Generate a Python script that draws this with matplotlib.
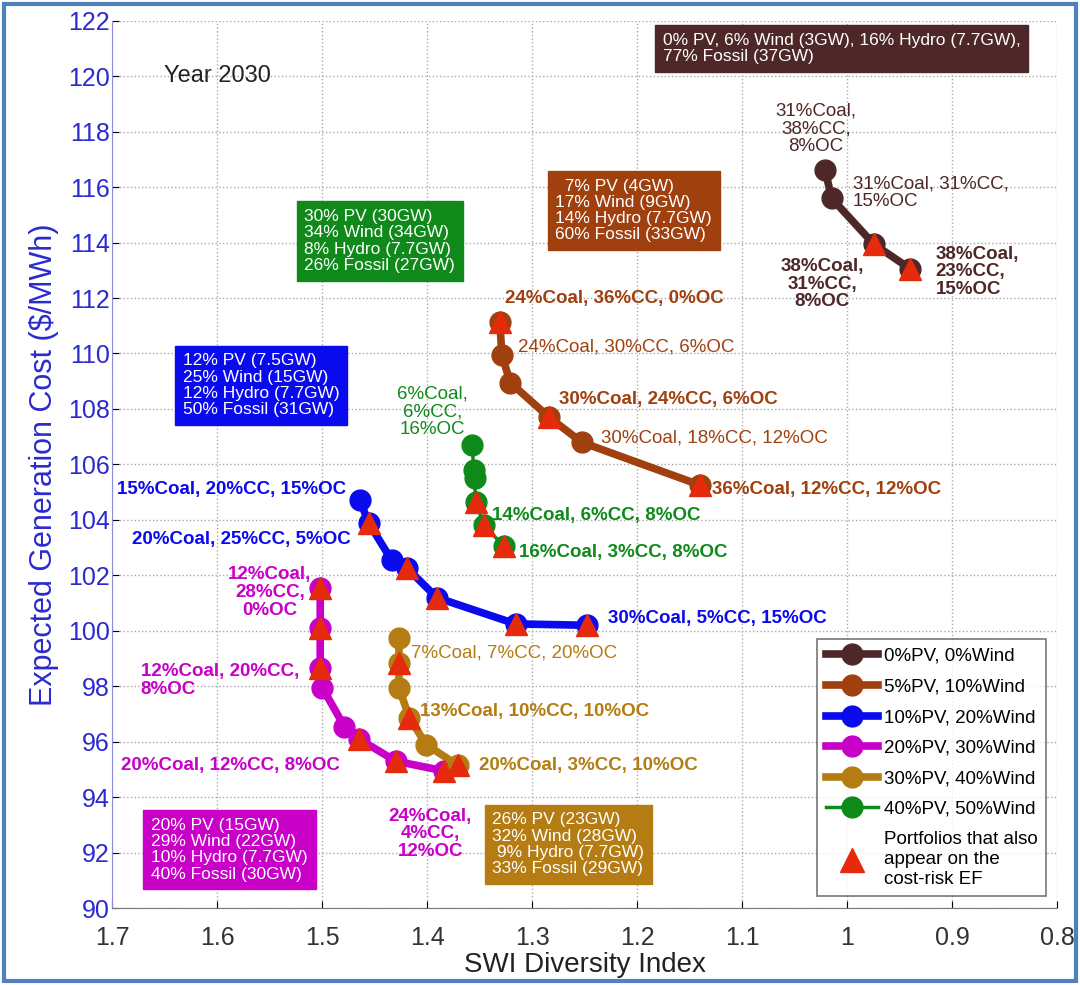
import matplotlib
matplotlib.use('Agg')
import matplotlib.pyplot as plt
from matplotlib.lines import Line2D
from matplotlib.patches import Rectangle

plt.rcParams['font.family'] = ['Liberation Sans', 'DejaVu Sans']

# SWI diversity index (x) and expected generation cost (y) per scenario
x_0pv = [1.021, 1.015, 0.975, 0.940]
y_0pv = [116.6, 115.6, 113.95, 113.05]
ef_0pv = [2, 3]

x_5pv = [1.331, 1.329, 1.321, 1.284, 1.253, 1.140]
y_5pv = [111.15, 109.95, 108.95, 107.7, 106.8, 105.25]
ef_5pv = [0, 3, 5]

x_10pv = [1.464, 1.456, 1.434, 1.419, 1.391, 1.316, 1.248]
y_10pv = [104.7, 103.9, 102.55, 102.25, 101.2, 100.25, 100.2]
ef_10pv = [1, 3, 4, 5, 6]

x_20pv = [1.502, 1.502, 1.502, 1.500, 1.479, 1.465, 1.430, 1.384]
y_20pv = [101.55, 100.1, 98.65, 97.95, 96.55, 96.1, 95.3, 94.95]
ef_20pv = [0, 1, 2, 5, 6, 7]

x_30pv = [1.427, 1.427, 1.427, 1.417, 1.401, 1.371]
y_30pv = [99.75, 98.85, 97.95, 96.85, 95.9, 95.15]
ef_30pv = [1, 3, 5]

x_40pv = [1.357, 1.356, 1.355, 1.354, 1.346, 1.327]
y_40pv = [106.7, 105.8, 105.5, 104.65, 103.8, 103.05]
ef_40pv = [3, 4, 5]

series_labels = ['0%PV, 0%Wind', '5%PV, 10%Wind', '10%PV, 20%Wind',
                 '20%PV, 30%Wind', '30%PV, 40%Wind', '40%PV, 50%Wind']
colors = ['#4e2828', '#a0400f', '#0a0aee', '#c800c8', '#b47c12', '#0f8a1a']
red = '#e62a0c'

fig = plt.figure(figsize=(10.8, 9.85), dpi=100)
ax = fig.add_axes([0.104, 0.078, 0.875, 0.901])

data = [(x_0pv, y_0pv, ef_0pv), (x_5pv, y_5pv, ef_5pv), (x_10pv, y_10pv, ef_10pv),
        (x_20pv, y_20pv, ef_20pv), (x_30pv, y_30pv, ef_30pv), (x_40pv, y_40pv, ef_40pv)]
handles = []
for (xs, ys, ef), c, lab in zip(data, colors, series_labels):
    lw = 2.5 if c == colors[5] else 5.5
    h, = ax.plot(xs, ys, '-o', color=c, lw=lw, ms=15, mec=c, label=lab, zorder=3)
    handles.append(h)
for (xs, ys, ef), c in zip(data, colors):
    ax.plot([xs[i] for i in ef], [ys[i] for i in ef], '^', color=red, ms=16,
            mec=red, ls='none', zorder=4)

ax.set_xlim(1.7, 0.8)
ax.set_ylim(90, 122)
ax.set_xticks([1.7, 1.6, 1.5, 1.4, 1.3, 1.2, 1.1, 1.0, 0.9, 0.8])
ax.set_xticklabels(['1.7', '1.6', '1.5', '1.4', '1.3', '1.2', '1.1', '1', '0.9', '0.8'])
ax.set_yticks(range(90, 123, 2))
ax.grid(True, ls=':', color='#aaaaaa', lw=1)
ax.tick_params(axis='x', labelsize=18, labelcolor='#333333', direction='in', length=5, pad=13)
ax.tick_params(axis='y', labelsize=18, labelcolor='#2a2ad0', direction='in', length=5, pad=2)
ax.spines['top'].set_visible(False)
ax.spines['right'].set_visible(False)
ax.spines['left'].set_color('#8c8ce0')
ax.spines['bottom'].set_color('#777777')
ax.set_xlabel('SWI Diversity Index', fontsize=20, color='#222222', labelpad=1)
ax.set_ylabel('Expected Generation Cost ($/MWh)', fontsize=22, color='#2a2ad0', labelpad=6)

ax.text(1.651, 120.0, 'Year 2030', fontsize=17, color='#222222', va='center')

# composition boxes
boxes = [
    (1.176, 121.55, '0% PV, 6% Wind (3GW), 16% Hydro (7.7GW),\n77% Fossil (37GW)', colors[0]),
    (1.278, 116.3, '  7% PV (4GW)\n17% Wind (9GW)\n14% Hydro (7.7GW)\n60% Fossil (33GW)', colors[1]),
    (1.517, 115.2, '30% PV (30GW)\n34% Wind (34GW)\n8% Hydro (7.7GW)\n26% Fossil (27GW)', colors[5]),
    (1.633, 110.0, '12% PV (7.5GW)\n25% Wind (15GW)\n12% Hydro (7.7GW)\n50% Fossil (31GW)', colors[2]),
    (1.663, 93.25, '20% PV (15GW)\n29% Wind (22GW)\n10% Hydro (7.7GW)\n40% Fossil (30GW)', colors[3]),
    (1.338, 93.45, '26% PV (23GW)\n32% Wind (28GW)\n 9% Hydro (7.7GW)\n33% Fossil (29GW)', colors[4]),
]
for bx, by, txt, c in boxes:
    ax.text(bx, by, txt, fontsize=12.5, color='white', va='top', ha='left', linespacing=1.1,
            bbox=dict(boxstyle='square,pad=0.45', fc=c, ec=c), zorder=5)

# portfolio annotations: (x, y, text, colour index, weight, ha)
notes = [
    (1.030, 118.1, '31%Coal,\n38%CC,\n8%OC', 0, 'normal', 'center'),
    (0.995, 115.8, '31%Coal, 31%CC,\n15%OC', 0, 'normal', 'left'),
    (1.024, 112.5, '38%Coal,\n31%CC,\n8%OC', 0, 'bold', 'center'),
    (0.916, 112.95, '38%Coal,\n23%CC,\n15%OC', 0, 'bold', 'left'),
    (1.326, 112.0, '24%Coal, 36%CC, 0%OC', 1, 'bold', 'left'),
    (1.314, 110.25, '24%Coal, 30%CC, 6%OC', 1, 'normal', 'left'),
    (1.275, 108.33, '30%Coal, 24%CC, 6%OC', 1, 'bold', 'left'),
    (1.235, 106.96, '30%Coal, 18%CC, 12%OC', 1, 'normal', 'left'),
    (1.129, 105.1, '36%Coal, 12%CC, 12%OC', 1, 'bold', 'left'),
    (1.395, 107.9, '6%Coal,\n6%CC,\n16%OC', 5, 'normal', 'center'),
    (1.338, 104.17, '14%Coal, 6%CC, 8%OC', 5, 'bold', 'left'),
    (1.313, 102.83, '16%Coal, 3%CC, 8%OC', 5, 'bold', 'left'),
    (1.477, 105.1, '15%Coal, 20%CC, 15%OC', 2, 'bold', 'right'),
    (1.473, 103.3, '20%Coal, 25%CC, 5%OC', 2, 'bold', 'right'),
    (1.228, 100.43, '30%Coal, 5%CC, 15%OC', 2, 'bold', 'left'),
    (1.55, 101.38, '12%Coal,\n28%CC,\n0%OC', 3, 'bold', 'center'),
    (1.673, 98.2, '12%Coal, 20%CC,\n8%OC', 3, 'bold', 'left'),
    (1.692, 95.14, '20%Coal, 12%CC, 8%OC', 3, 'bold', 'left'),
    (1.397, 92.68, '24%Coal,\n4%CC,\n12%OC', 3, 'bold', 'center'),
    (1.416, 99.2, '7%Coal, 7%CC, 20%OC', 4, 'normal', 'left'),
    (1.407, 97.1, '13%Coal, 10%CC, 10%OC', 4, 'bold', 'left'),
    (1.351, 95.14, '20%Coal, 3%CC, 10%OC', 4, 'bold', 'left'),
]
for nx, ny, txt, ci, w, ha in notes:
    ax.text(nx, ny, txt, fontsize=13.5, color=colors[ci], fontweight=w, ha=ha,
            va='center', multialignment='center' if ha == 'center' else 'left',
            linespacing=1.05, zorder=5)

tri = Line2D([], [], marker='^', color=red, mec=red, ms=17, ls='none',
             label='Portfolios that also\nappear on the\ncost-risk EF')
leg = ax.legend(handles=handles + [tri], loc='lower right', bbox_to_anchor=(0.998, 0.003),
                fontsize=13.5, handlelength=2.8, labelspacing=0.72, borderpad=0.45,
                handletextpad=0.3, frameon=True, fancybox=False, edgecolor='#555555')
leg.get_frame().set_linewidth(1.2)

fig.patches.append(Rectangle((0.004, 0.004), 0.992, 0.992, transform=fig.transFigure,
                             fill=False, ec='#4f81bd', lw=3))

fig.savefig('out.png', dpi=100)
